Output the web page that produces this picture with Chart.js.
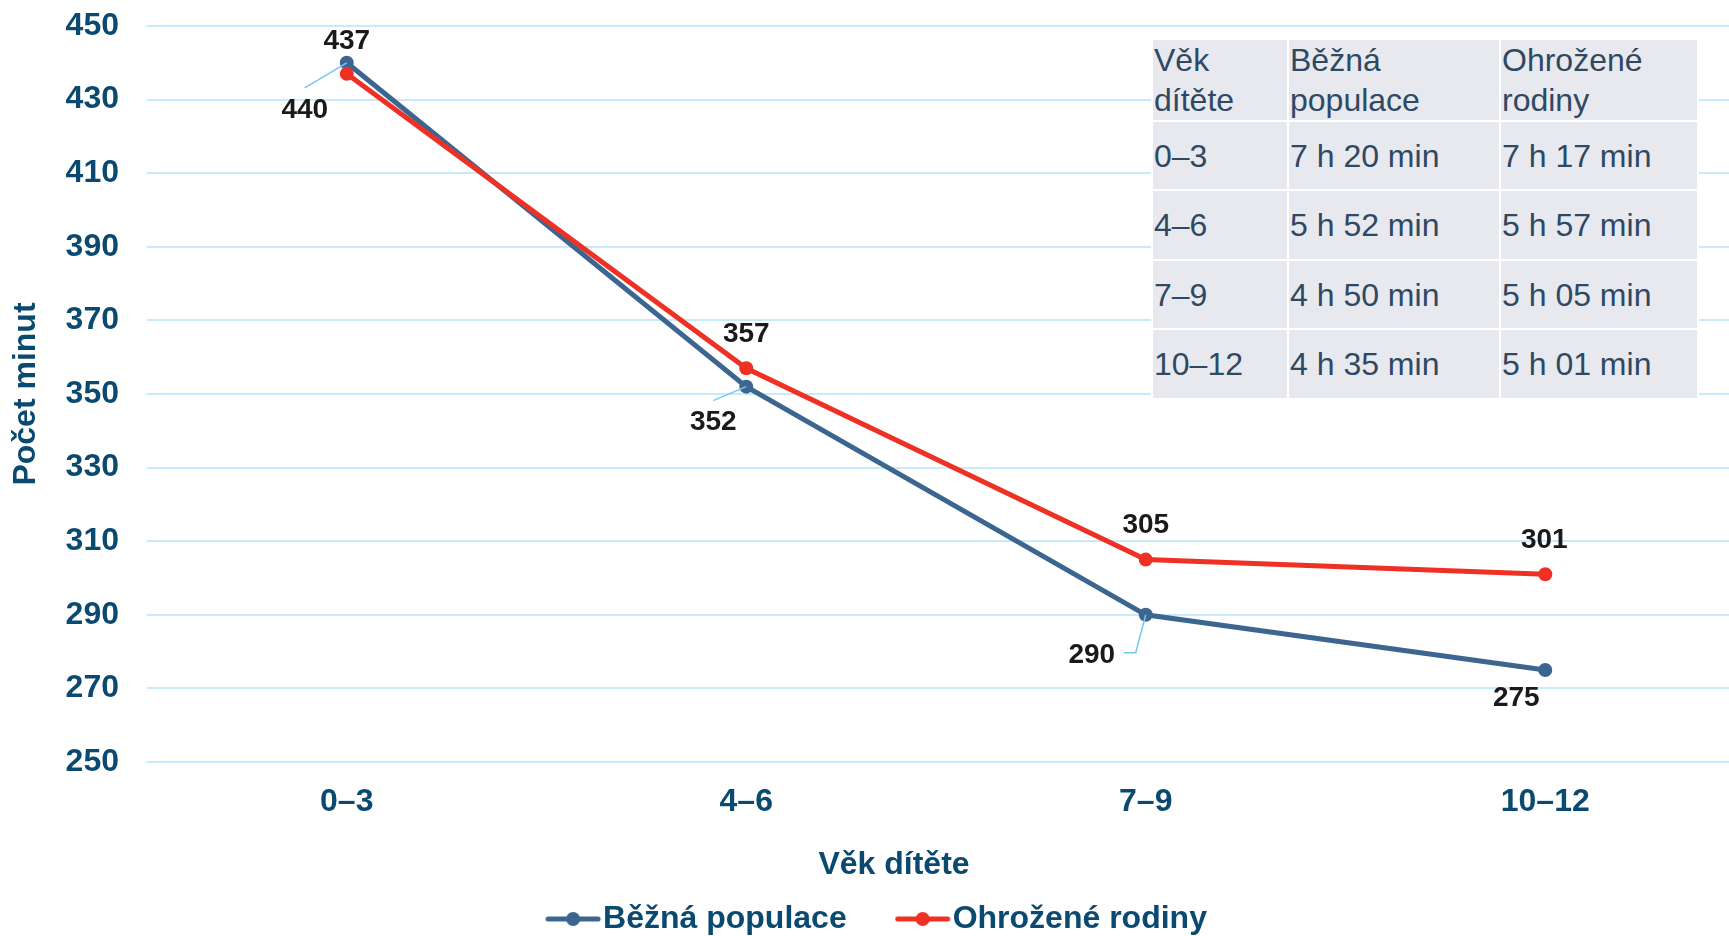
<!DOCTYPE html>
<html lang="cs">
<head>
<meta charset="utf-8">
<script src="https://cdn.jsdelivr.net/npm/chart.js@4/dist/chart.umd.min.js"></script>
<style>
  html, body { margin: 0; padding: 0; background: #fff; overflow: hidden; }
  #wrap { position: relative; width: 1752px; height: 945px; }
  #chart { position: absolute; left: 0; top: 0; }
  #tbl {
    position: absolute; left: 1151px; top: 38px;
    border-collapse: separate; border-spacing: 2px; background: #fff;
    font-family: "Liberation Sans", Arial, sans-serif; font-size: 32px; color: #2f4863;
  }
  #tbl td { background: #e8e9ee; padding: 0 0 0 1px; vertical-align: middle; line-height: 40px; white-space: nowrap; }
</style>
</head>
<body>
<div id="wrap">
  <canvas id="chart" width="1752" height="945"></canvas>
  <table id="tbl"></table>
</div>
<script>
// data
const ageGroups = ['0–3', '4–6', '7–9', '10–12'];
const commonPopulation = [440, 352, 290, 275];   // Běžná populace
const riskFamilies = [437, 357, 305, 301];       // Ohrožené rodiny
const seriesNames = ['Běžná populace', 'Ohrožené rodiny'];
const tableHeaders = ['Věk dítěte', 'Běžná populace', 'Ohrožené rodiny'];
const yMin = 250, yMax = 450, yStep = 20;

const BLUE = '#3c6690';
const RED = '#ee3124';
const DARK = '#0b4a70';
const FONT = '"Liberation Sans", Arial, sans-serif';

// label offsets from the point (px), blue labels sit below with leader lines
const labelOffsets = [
  [[-42, 47], [-33, 36], [-54, 40], [-29, 28]],
  [[0, -33], [0, -34], [0, -34], [-1, -34]]
];
const leaders = [
  [[[-42, 25], [0, 0]], [[-33, 14], [0, 0]], [[-22, 38], [-10, 38], [0, 0]], null],
  [null, null, null, null]
];

function fmtMinutes(v){
  return Math.floor(v / 60) + ' h ' + String(v % 60).padStart(2, '0') + ' min';
}

function build_table(){
  const tbl = document.getElementById('tbl');
  const widths = [133, 209, 195];
  let html = '<tr style="height:77px">';
  tableHeaders.forEach((h, i) => {
    html += `<td style="width:${widths[i]}px">${h.replace(' ', '<br>')}</td>`;
  });
  html += '</tr>';
  const heights = [67, 68, 67, 68];
  ageGroups.forEach((g, i) => {
    html += `<tr style="height:${heights[i]}px"><td>${g}</td><td>${fmtMinutes(commonPopulation[i])}</td><td>${fmtMinutes(riskFamilies[i])}</td></tr>`;
  });
  tbl.innerHTML = html;
}

// line + dot marker for the legend (drawn in the left part, rest transparent)
function legend_icon(color){
  const c = document.createElement('canvas');
  c.width = 78; c.height = 20;
  const ctx = c.getContext('2d');
  ctx.strokeStyle = color;
  ctx.lineWidth = 5;
  ctx.lineCap = 'round';
  ctx.beginPath();
  ctx.moveTo(3, 10);
  ctx.lineTo(53, 10);
  ctx.stroke();
  ctx.fillStyle = color;
  ctx.beginPath();
  ctx.arc(28, 10, 7, 0, Math.PI * 2);
  ctx.fill();
  return c;
}

const pointLabels = {
  id: 'pointLabels',
  afterDatasetsDraw(chart){
    const ctx = chart.ctx;
    ctx.save();
    chart.data.datasets.forEach((ds, di) => {
      const meta = chart.getDatasetMeta(di);
      meta.data.forEach((pt, i) => {
        const lead = leaders[di][i];
        if (lead){
          ctx.strokeStyle = '#74c7f5';
          ctx.lineWidth = 1.5;
          ctx.beginPath();
          lead.forEach((p, k) => {
            if (k === 0) ctx.moveTo(pt.x + p[0], pt.y + p[1]);
            else ctx.lineTo(pt.x + p[0], pt.y + p[1]);
          });
          ctx.stroke();
        }
        const off = labelOffsets[di][i];
        ctx.font = 'bold 28px ' + FONT;
        ctx.fillStyle = '#1a1a1a';
        ctx.textAlign = 'center';
        ctx.textBaseline = 'middle';
        ctx.fillText(String(ds.data[i]), pt.x + off[0], pt.y + off[1]);
      });
    });
    ctx.restore();
  }
};

build_table();

const icons = [legend_icon(BLUE), legend_icon(RED)];

new Chart(document.getElementById('chart').getContext('2d'), {
  type: 'line',
  data: {
    labels: ageGroups,
    datasets: [{
      label: seriesNames[0],
      data: commonPopulation,
      borderColor: BLUE,
      backgroundColor: BLUE,
      pointBackgroundColor: BLUE,
      pointBorderColor: BLUE,
      borderWidth: 5,
      pointRadius: 7,
      pointBorderWidth: 0,
      fill: false,
      order: 1
    }, {
      label: seriesNames[1],
      data: riskFamilies,
      borderColor: RED,
      backgroundColor: RED,
      pointBackgroundColor: RED,
      pointBorderColor: RED,
      borderWidth: 5,
      pointRadius: 7,
      pointBorderWidth: 0,
      fill: false,
      order: 0
    }]
  },
  options: {
    responsive: false,
    animation: false,
    devicePixelRatio: 1,
    layout: { padding: { top: 26, left: 36, right: 0, bottom: 0 } },
    scales: {
      x: {
        offset: true,
        grid: { display: false, drawTicks: false },
        border: { display: false },
        ticks: { color: DARK, font: { family: FONT, size: 32, weight: 'bold' }, padding: 21 },
        afterFit(scale){ scale.height = 50.4; scale.paddingLeft = 0; scale.paddingRight = 0; }
      },
      y: {
        min: yMin,
        max: yMax,
        grid: { color: '#c8ebfc', lineWidth: 2, drawTicks: false },
        border: { display: false },
        ticks: { stepSize: yStep, color: DARK, font: { family: FONT, size: 32, weight: 'bold' }, padding: 28 },
        title: {
          display: true,
          text: 'Počet minut',
          color: DARK,
          font: { family: FONT, size: 32, weight: 'bold' },
          padding: { top: -29, bottom: 0 }
        },
        afterFit(scale){ scale.width = 111; scale.paddingTop = 0; scale.paddingBottom = 0; }
      }
    },
    plugins: {
      // axis title right under the axis, the legend at the very bottom
      title: {
        display: true,
        position: 'bottom',
        text: 'Věk dítěte',
        color: DARK,
        weight: 2000,
        font: { family: FONT, size: 32, weight: 'bold' },
        padding: { top: 34, bottom: -65.8 }
      },
      legend: {
        position: 'bottom',
        weight: 3000,
        labels: {
          usePointStyle: true,
          pointStyleWidth: 6,
          padding: 84,
          color: DARK,
          font: { family: FONT, size: 32, weight: 'bold' },
          generateLabels(chart){
            return chart.data.datasets.map((ds, i) => ({
              text: ds.label,
              pointStyle: icons[i],
              fillStyle: ds.borderColor,
              strokeStyle: ds.borderColor,
              lineWidth: 0,
              fontColor: DARK,
              hidden: false,
              datasetIndex: i
            }));
          }
        }
      },
      tooltip: { enabled: false }
    }
  },
  plugins: [pointLabels]
});
</script>
</body>
</html>
